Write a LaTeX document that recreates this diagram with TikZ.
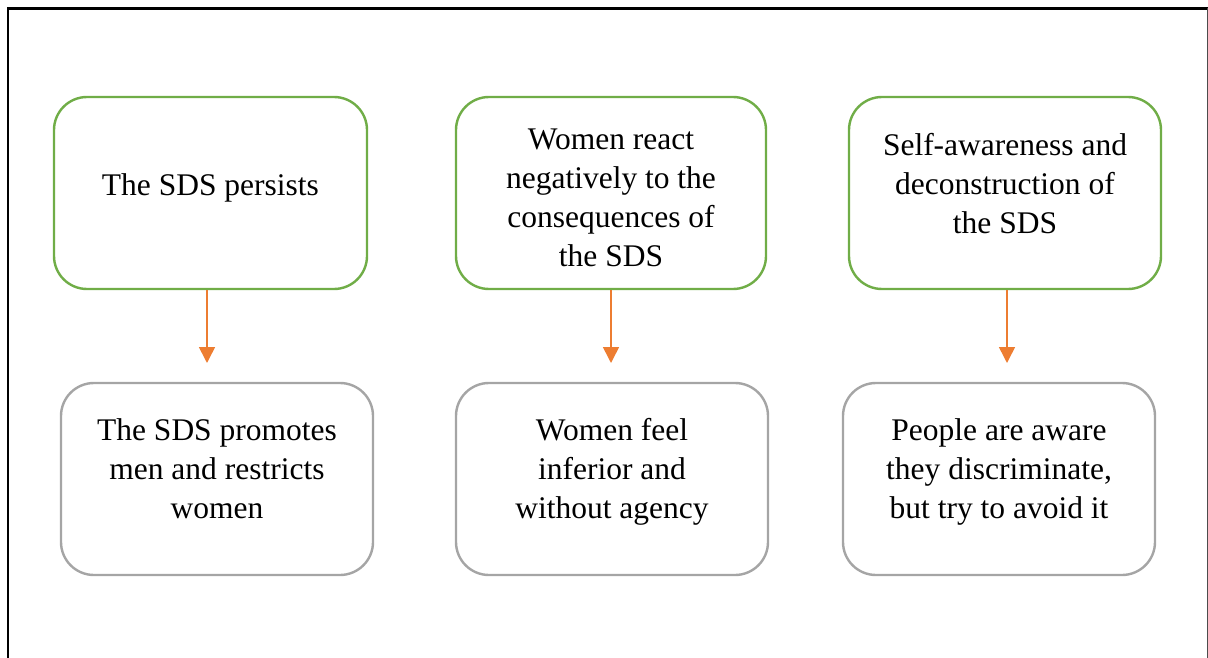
\documentclass[tikz,border=0pt]{standalone}
\usepackage{fontspec}
\setmainfont{Liberation Serif}
\usetikzlibrary{arrows.meta}
\definecolor{sgreen}{HTML}{70AD47}
\definecolor{sgrey}{HTML}{A5A5A5}
\definecolor{sorange}{HTML}{ED7D31}
\tikzset{
  gbox/.style={draw=sgreen, line width=2.4pt, rounded corners=33pt, fill=white, inner sep=0pt},
  ybox/.style={draw=sgrey, line width=2.4pt, rounded corners=33pt, fill=white, inner sep=0pt},
  txt/.style={anchor=north, inner sep=0pt, align=center, font=\fontsize{31.5}{39}\selectfont},
  arr/.style={draw=sorange, line width=1.6pt, -{Triangle[width=16pt,length=16pt]}},
}
\begin{document}
\begin{tikzpicture}[x=1pt,y=-1pt]
\useasboundingbox (0,0) rectangle (1208,658);
% frame
\draw[line width=2.2pt, black] (8,659) -- (8,8.5) -- (1208,8.5);
\draw[line width=1pt, black!70] (1207,8.5) -- (1207,659);
% top boxes
\node[gbox, minimum width=313pt, minimum height=192pt] (b1) at (210.5,193) {};
\node[gbox, minimum width=310pt, minimum height=192pt] (b2) at (611,193) {};
\node[gbox, minimum width=312pt, minimum height=192pt] (b3) at (1005,193) {};
% bottom boxes
\node[ybox, minimum width=312pt, minimum height=192pt] (b4) at (217,479) {};
\node[ybox, minimum width=312pt, minimum height=192pt] (b5) at (612,479) {};
\node[ybox, minimum width=312pt, minimum height=192pt] (b6) at (999,479) {};
% texts
\node[txt] (t1) at (210.5,{195-27.3}) {\strut The SDS persists};
\node[txt] (t2) at (611,{149-27.3}) {\strut Women react\\negatively to the\\consequences of\\the SDS};
\node[txt] (t3) at (1005,{155-27.3}) {\strut Self-awareness and\\deconstruction of\\the SDS};
\node[txt] (t4) at (217,{440-27.3}) {\strut The SDS promotes\\men and restricts\\women};
\node[txt] (t5) at (612,{440-27.3}) {\strut Women feel\\inferior and\\without agency};
\node[txt] (t6) at (999,{440-27.3}) {\strut People are aware\\they discriminate,\\but try to avoid it};
% arrows
\coordinate (e1) at (207,363);
\coordinate (e2) at (611,363);
\coordinate (e3) at (1007,363);
\draw[arr] (b1.south -| e1) -- (e1);
\draw[arr] (b2.south -| e2) -- (e2);
\draw[arr] (b3.south -| e3) -- (e3);
\end{tikzpicture}
\end{document}
